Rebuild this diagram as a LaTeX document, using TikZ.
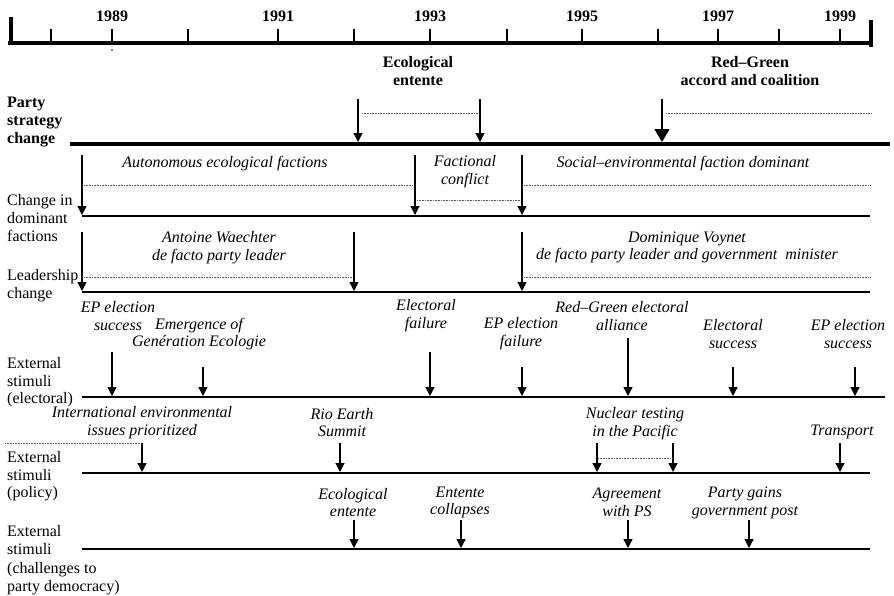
\documentclass[tikz,border=0pt]{standalone}
\usepackage{fontspec}
\setmainfont{Liberation Serif}
\usetikzlibrary{arrows.meta}
\newcommand\tlfont{\fontsize{16}{17.8}\selectfont}
\begin{document}
\begin{tikzpicture}[x=1pt,y=-1pt,
  axisline/.style={line width=4pt},
  partyline/.style={line width=4pt},
  track/.style={line width=2pt},
  tick/.style={line width=1.6pt},
  arr/.style={line width=1.3pt,-{Triangle[width=9pt,length=9pt]}},
  bigarr/.style={line width=1.3pt,-{Triangle[width=15pt,length=13pt]}},
  span/.style={densely dotted,line width=0.6pt,black!65},
  yearlbl/.style={font=\tlfont\bfseries,anchor=base,inner sep=0pt},
  head/.style={font=\tlfont\bfseries,align=center,inner sep=0pt},
  ev/.style={font=\tlfont\itshape,align=center,inner sep=0pt},
  side/.style={font=\tlfont,align=left,anchor=north west,inner sep=0pt},
  sidebold/.style={font=\tlfont\bfseries,align=left,anchor=north west,inner sep=0pt}]
\useasboundingbox (0,0) rectangle (894,595);

% ---- time axis ----
\coordinate (axL) at (8,43);
\coordinate (axR) at (872,43);
\draw[axisline] (axL) -- (axR);
\coordinate (capLt) at (10.5,17); \coordinate (capLb) at (10.5,45);
\coordinate (capRt) at (870.5,20); \coordinate (capRb) at (870.5,47);
\draw[line width=4pt] (capLt) -- (capLb);
\draw[line width=4pt] (capRt) -- (capRb);
\foreach \i/\x in {1/51,2/112,3/188,4/278,5/354,6/430,7/507,8/582,9/658,10/718,11/779,12/840}{
  \coordinate (tk\i t) at (\x,29);
  \coordinate (tk\i b) at (\x,43);
  \draw[tick] (tk\i t) -- (tk\i b);
}
\foreach \y/\x in {1989/112,1991/278,1993/430,1995/582,1997/718,1999/840}
  \node[yearlbl] (yr\y) at (\x,21) {\y};
\fill (112,50) circle (0.8pt);

% ---- party strategy change ----
\node[head] (hEnt) at (418,71) {Ecological\\entente};
\node[head] (hRG) at (750,71) {Red–Green\\accord and coalition};
\node[sidebold] (lParty) at (7,97) {Party\\strategy\\change};
\coordinate (psL) at (70,144); \coordinate (psR) at (890,144);
\draw[partyline] (psL) -- (psR);
\coordinate (ps1s) at (358,99); \coordinate (ps1e) at (358,142);
\coordinate (ps2s) at (480,99); \coordinate (ps2e) at (480,142);
\coordinate (ps3s) at (662,99); \coordinate (ps3e) at (662,142);
\draw[arr] (ps1s) -- (ps1e);
\draw[arr] (ps2s) -- (ps2e);
\draw[bigarr] (ps3s) -- (ps3e);
\coordinate (psd1a) at (362,113); \coordinate (psd1b) at (478,113);
\coordinate (psd2a) at (666,113); \coordinate (psd2b) at (872,113);
\draw[span] (psd1a) -- (psd1b);
\draw[span] (psd2a) -- (psd2b);

% ---- change in dominant factions ----
\node[side] (lFac) at (7,194.5) {Change in\\dominant\\factions};
\coordinate (dfL) at (82,216); \coordinate (dfR) at (870,216);
\draw[track] (dfL) -- (dfR);
\foreach \n/\x in {df1/82,df2/415,df3/522}{
  \coordinate (\n s) at (\x,155); \coordinate (\n e) at (\x,215);
  \draw[arr] (\n s) -- (\n e);
}
\coordinate (dfd1a) at (84,185); \coordinate (dfd1b) at (413,185);
\coordinate (dfd2a) at (417,200); \coordinate (dfd2b) at (520,200);
\coordinate (dfd3a) at (524,185); \coordinate (dfd3b) at (870,185);
\draw[span] (dfd1a) -- (dfd1b);
\draw[span] (dfd2a) -- (dfd2b);
\draw[span] (dfd3a) -- (dfd3b);
\node[ev] (eAuto) at (225,164) {Autonomous ecological factions};
\node[ev] (eConf) at (465,172) {Factional\\conflict};
\node[ev] (eSoc) at (683,164) {Social–environmental faction dominant};

% ---- leadership change ----
\node[side] (lLead) at (7,269) {Leadership\\change};
\coordinate (ldL) at (82,292); \coordinate (ldR) at (870,292);
\draw[track] (ldL) -- (ldR);
\foreach \n/\x in {ld1/82,ld2/354,ld3/522}{
  \coordinate (\n s) at (\x,232); \coordinate (\n e) at (\x,291);
  \draw[arr] (\n s) -- (\n e);
}
\coordinate (ldd1a) at (84,277); \coordinate (ldd1b) at (352,277);
\coordinate (ldd2a) at (524,277); \coordinate (ldd2b) at (870,277);
\draw[span] (ldd1a) -- (ldd1b);
\draw[span] (ldd2a) -- (ldd2b);
\node[ev] (eWae) at (219,247.5) {Antoine Waechter\\de facto party leader};
\node[ev] (eVoy) at (687,247.5) {Dominique Voynet\\de facto party leader and government~ minister};

% ---- external stimuli (electoral) ----
\node[side] (lElec) at (7,357) {External\\stimuli\\(electoral)};
\coordinate (elL) at (82,397); \coordinate (elR) at (885,397);
\draw[track] (elL) -- (elR);
\foreach \n/\x/\y in {el1/112/352,el2/203/367,el3/430/352,el4/522/367,el5/628/338,el6/733/367,el7/855/367}{
  \coordinate (\n s) at (\x,\y); \coordinate (\n e) at (\x,396);
  \draw[arr] (\n s) -- (\n e);
}
\node[ev] (eEP1) at (118,316) {EP election\\success};
\node[ev] (eGen) at (199,334) {Emergence of\\Genération Ecologie};
\node[ev] (eFail) at (426,316) {Electoral\\failure};
\node[ev] (eEP2) at (521,334) {EP election\\failure};
\node[ev] (eAll) at (622,316) {Red–Green electoral\\alliance};
\node[ev] (eSucc) at (733,334) {Electoral\\success};
\node[ev] (eEP3) at (848,334) {EP election\\success};

% ---- external stimuli (policy) ----
\node[side] (lPol) at (7,451) {External\\stimuli\\(policy)};
\coordinate (poL) at (82,473); \coordinate (poR) at (870,473);
\draw[track] (poL) -- (poR);
\foreach \n/\x in {po1/142,po2/340,po3/597,po4/673,po5/840}{
  \coordinate (\n s) at (\x,443); \coordinate (\n e) at (\x,472);
  \draw[arr] (\n s) -- (\n e);
}
\coordinate (pod1a) at (5,443); \coordinate (pod1b) at (141,443);
\coordinate (pod2a) at (598,458); \coordinate (pod2b) at (672,458);
\draw[span] (pod1a) -- (pod1b);
\draw[span] (pod2a) -- (pod2b);
\node[ev] (eInt) at (142,422.5) {International environmental\\issues prioritized};
\node[ev] (eRio) at (342,422.5) {Rio Earth\\Summit};
\node[ev] (eNuc) at (635,423.5) {Nuclear testing\\in the Pacific};
\node[ev] (eTra) at (842,432) {Transport};

% ---- external stimuli (challenges to party democracy) ----
\node[side,font=\fontsize{16}{18.5}\selectfont] (lDem) at (7,525) {External\\stimuli\\(challenges to\\party democracy)};
\coordinate (chL) at (82,549); \coordinate (chR) at (870,549);
\draw[track] (chL) -- (chR);
\foreach \n/\x in {ch1/354,ch2/461,ch3/628,ch4/749}{
  \coordinate (\n s) at (\x,520); \coordinate (\n e) at (\x,548);
  \draw[arr] (\n s) -- (\n e);
}
\node[ev] (eEco) at (353,502.5) {Ecological\\entente};
\node[ev] (eCol) at (460,502.5) {Entente\\collapses};
\node[ev] (eAgr) at (627,502.5) {Agreement\\with PS};
\node[ev] (eGov) at (745,502.5) {Party gains\\government post};
\end{tikzpicture}
\end{document}
